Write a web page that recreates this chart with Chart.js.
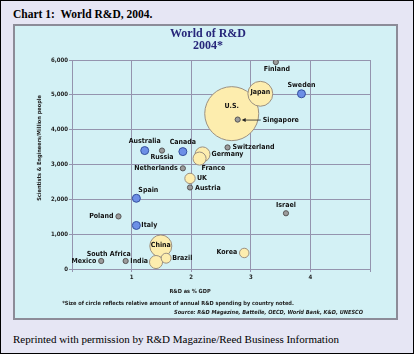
<!DOCTYPE html>
<html>
<head>
<meta charset="utf-8">
<script src="https://cdn.jsdelivr.net/npm/chart.js@4/dist/chart.umd.min.js"></script>
<style>
  body { margin: 0; }
  #page { position: relative; width: 412px; height: 352px; border: 1px solid #000; background: #e6e6f4; overflow: hidden; }
  #head { position: absolute; left: 12px; top: 7px; font: bold 11.5px "Liberation Serif", serif; color: #000; }
  #panel { position: absolute; left: 12px; top: 23px; width: 381px; height: 292px; border: 2px solid #8c8c98; background: #d3f1f5; }
  #credit { position: absolute; left: 12px; top: 332px; font: 11px "Liberation Serif", serif; color: #000; }
  #chart { position: absolute; left: -1px; top: -1px; }
</style>
</head>
<body>
<div id="page">
  <div id="head">Chart 1:&nbsp; World R&amp;D, 2004.</div>
  <div id="panel"></div>
  <div id="credit">Reprinted with permission by R&amp;D Magazine/Reed Business Information</div>
  <canvas id="chart" width="414" height="354"></canvas>
</div>
<script>
const COUNTRIES = ["U.S.", "Japan", "Singapore", "Finland", "Sweden", "Switzerland", "Germany", "France",
  "UK", "Austria", "Netherlands", "Canada", "Russia", "Australia", "Spain", "Poland", "Italy",
  "China", "India", "Brazil", "South Africa", "Mexico", "Korea", "Israel"]
// R&D as % of GDP
const RD_PCT = [2.68, 3.16, 2.78, 3.42, 3.85, 2.61, 2.19, 2.14, 1.98, 1.98, 1.86, 1.86, 1.51, 1.22, 1.08, 0.78, 1.08,
  1.49, 1.41, 1.58, 0.90, 0.49, 2.89, 3.59]
// scientists & engineers per million people
const SCIENTISTS = [4460, 5030, 4290, 5940, 5030, 3490, 3290, 3170, 2600, 2340, 2890, 3370, 3400, 3400, 2030, 1510, 1250,
  660, 200, 310, 230, 230, 460, 1600]
// relative annual R&D spending (only for the countries drawn as sized circles)
const SPENDING = [324, 69, null, null, null, null, 25, 19, 12, null, null, null, null, null, null, null, null,
  54, 19, 11, null, null, 10, null]
const MID_GROUP = ["Sweden", "Canada", "Australia", "Spain", "Italy"]
const X_TICKS = [1, 2, 3, 4]
const Y_TICKS = [0, 1000, 2000, 3000, 4000, 5000, 6000]

// label placement: [textAlign, dx, dy]
const LABELS = {
  "U.S.": ["center", 0, -7], "Japan": ["center", 0, -2], "China": ["center", 0, -1],
  "Finland": ["center", 1, 7], "Sweden": ["center", 0, -9], "Singapore": ["left", 25, 1],
  "Switzerland": ["left", 5, 0], "Germany": ["left", 9, 0], "France": ["left", 2, 10],
  "UK": ["left", 7, 0], "Austria": ["left", 5, 1], "Netherlands": ["right", -5, 0],
  "Canada": ["center", 0, -9], "Russia": ["center", 0, 7], "Australia": ["center", 0, -9],
  "Spain": ["left", 2, -8], "Poland": ["right", -5, 0], "Italy": ["left", 5, 0],
  "India": ["right", -8, -1], "Brazil": ["left", 6, 0], "South Africa": ["right", 5, -7],
  "Mexico": ["right", -5, 0], "Korea": ["right", -7, -1], "Israel": ["center", 0, -8]
}

const pick = (test, rad) => COUNTRIES.map((c, i) => i).filter(i => test(i)).map(i => ({
  x: RD_PCT[i], y: SCIENTISTS[i], r: rad(i), name: COUNTRIES[i]
}))

const major = pick(i => SPENDING[i] != null, i => Math.sqrt(SPENDING[i]) * 1.5)
const mid = pick(i => SPENDING[i] == null && MID_GROUP.includes(COUNTRIES[i]), i => 4)
const minor = pick(i => SPENDING[i] == null && !MID_GROUP.includes(COUNTRIES[i]), i => 2.6)

const LABEL_FONT = 'bold 7px "DejaVu Sans Condensed", sans-serif'
const SMALL_FONT = 'bold 5.6px "DejaVu Sans Condensed", sans-serif'
const GRID = '#9494ae'

const textPlugin = {
  id: 'textPlugin',
  afterDatasetsDraw(chart) {
    const ctx = chart.ctx
    ctx.save()
    ctx.fillStyle = '#111'
    ctx.font = LABEL_FONT
    ctx.textBaseline = 'middle'
    chart.data.datasets.forEach((ds, di) => {
      chart.getDatasetMeta(di).data.forEach((el, j) => {
        const name = ds.data[j].name
        const [align, dx, dy] = LABELS[name]
        ctx.textAlign = align
        ctx.fillText(name, el.x + dx, el.y + dy)
        if (name === 'Singapore') {
          ctx.strokeStyle = '#222'
          ctx.lineWidth = 0.8
          ctx.beginPath()
          ctx.moveTo(el.x + 23, el.y + 0.5)
          ctx.lineTo(el.x + 6, el.y + 0.5)
          ctx.stroke()
          ctx.beginPath()
          ctx.moveTo(el.x + 4, el.y + 0.5)
          ctx.lineTo(el.x + 8, el.y - 1.5)
          ctx.lineTo(el.x + 8, el.y + 2.5)
          ctx.closePath()
          ctx.fillStyle = '#222'
          ctx.fill()
          ctx.fillStyle = '#111'
        }
      })
    })
    // chart heading
    ctx.fillStyle = '#27277a'
    ctx.textAlign = 'center'
    ctx.font = 'bold 12px "Liberation Serif", serif'
    ctx.fillText('World of R&D', 208, 34)
    ctx.fillText('2004*', 208, 46)
    // axis titles and notes
    ctx.fillStyle = '#222'
    ctx.font = SMALL_FONT
    ctx.fillText('R&D as % GDP', 190, 292)
    ctx.fillText('*Size of circle reflects relative amount of annual R&D spending by country noted.', 178, 304)
    ctx.textAlign = 'right'
    ctx.font = 'italic ' + SMALL_FONT
    ctx.fillText('Source: R&D Magazine, Battelle, OECD, World Bank, K&D, UNESCO', 363, 313)
    ctx.textAlign = 'center'
    ctx.font = SMALL_FONT
    ctx.translate(40, 148)
    ctx.rotate(-Math.PI / 2)
    ctx.fillText('Scientists & Engineers/Million people', 0, 0)
    ctx.restore()
  }
}

new Chart(document.getElementById('chart'), {
  type: 'bubble',
  data: {
    datasets: [
      { label: 'Major', data: major, backgroundColor: '#fdedae', borderColor: '#9b9080', borderWidth: 1, order: 3 },
      { label: 'Mid', data: mid, backgroundColor: '#6d8fe6', borderColor: '#34509e', borderWidth: 1, order: 2 },
      { label: 'Minor', data: minor, backgroundColor: '#9c9c9c', borderColor: '#555', borderWidth: 1, order: 1 }
    ]
  },
  options: {
    responsive: false,
    animation: false,
    events: [],
    layout: { padding: { left: 0, top: 60, right: 44, bottom: 0 } },
    plugins: { legend: { display: false }, tooltip: { enabled: false }, title: { display: false } },
    scales: {
      x: {
        type: 'linear', min: 0, max: 5,
        afterBuildTicks: s => { s.ticks = [0, ...X_TICKS, 5].map(v => ({ value: v })) },
        afterFit: s => { s.height = 85 },
        ticks: {
          callback: v => X_TICKS.includes(v) ? String(v) : '',
          font: { size: 6, weight: 'bold', family: 'DejaVu Sans Condensed, sans-serif' },
          color: '#222', padding: 2, maxRotation: 0
        },
        grid: { color: GRID, tickLength: 3, lineWidth: 1 },
        border: { color: GRID }
      },
      y: {
        type: 'linear', min: 0, max: 6000,
        afterBuildTicks: s => { s.ticks = Y_TICKS.map(v => ({ value: v })) },
        afterFit: s => { s.width = 72 },
        ticks: {
          callback: v => v.toLocaleString('en-US'),
          font: { size: 6, weight: 'bold', family: 'DejaVu Sans Condensed, sans-serif' },
          color: '#222', padding: 1
        },
        grid: { color: GRID, tickLength: 3, lineWidth: 1 },
        border: { color: GRID }
      }
    }
  },
  plugins: [textPlugin]
})
</script>
</body>
</html>
